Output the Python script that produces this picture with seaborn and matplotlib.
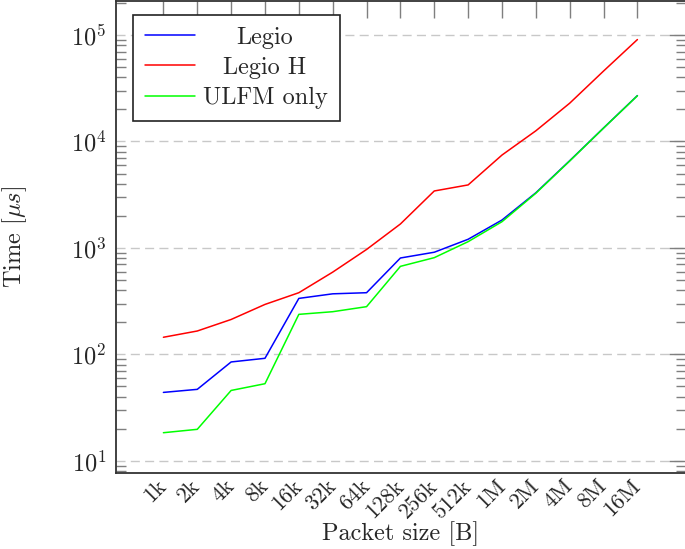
import matplotlib
matplotlib.use("Agg")
import matplotlib.pyplot as plt
import matplotlib.transforms as mtransforms
import seaborn as sns
import pandas as pd
import numpy as np
from matplotlib.ticker import LogLocator, NullFormatter

sizes = ["1k", "2k", "4k", "8k", "16k", "32k", "64k", "128k", "256k", "512k",
         "1M", "2M", "4M", "8M", "16M"]
legio = [44, 47, 85, 92, 336, 371, 380, 805, 912, 1207, 1830, 3300, 6600, 13400, 27000]
legio_h = [145, 166, 213, 295, 380, 593, 968, 1680, 3430, 3910, 7460, 12600, 22900, 45900, 90700]
ulfm = [18.4, 19.8, 45.9, 53.1, 238, 252, 281, 672, 811, 1146, 1765, 3265, 6560, 13360, 26900]
series_names = ["Legio", "Legio H", "ULFM only"]
colors = ["#0000ff", "#ff0000", "#00ff00"]

df = pd.concat([
    pd.DataFrame({"size": sizes, "time": legio, "series": series_names[0]}),
    pd.DataFrame({"size": sizes, "time": legio_h, "series": series_names[1]}),
    pd.DataFrame({"size": sizes, "time": ulfm, "series": series_names[2]}),
], ignore_index=True)

sns.set_style("white")
plt.rcParams["font.family"] = ["cmr10", "DejaVu Serif"]
plt.rcParams["mathtext.fontset"] = "cm"
plt.rcParams["axes.formatter.use_mathtext"] = True
plt.rcParams["axes.unicode_minus"] = False

FS = 17.5
FSX = 16

fig = plt.figure(figsize=(6.85, 5.49), dpi=100)
ax = fig.add_axes([116 / 685, (549 - 473) / 549, (685.5 - 116) / 685, (473 - 0.5) / 549])

sns.lineplot(data=df, x="size", y="time", hue="series", palette=colors,
             hue_order=series_names, sort=False, linewidth=1.1, ax=ax)

ax.set_yscale("log")
ax.set_xlim(-1.40, 15.42)
ax.set_ylim(7.7, 2.11e5)

ax.yaxis.set_major_locator(LogLocator(base=10, numticks=10))
ax.yaxis.set_minor_locator(LogLocator(base=10, subs=np.arange(2, 10), numticks=20))
ax.yaxis.set_minor_formatter(NullFormatter())

ax.set_xticks(range(len(sizes)))
ax.set_xticklabels(sizes, rotation=45, ha="right", va="center", rotation_mode="anchor")
offset = mtransforms.ScaledTranslation(-4 / 100, 0, fig.dpi_scale_trans)
for lbl in ax.get_xticklabels():
    lbl.set_transform(lbl.get_transform() + offset)

ax.tick_params(axis="x", which="major", direction="in", length=12, width=1.0,
               color="#7f7f7f", top=True, labelsize=FSX, pad=7)
ax.tick_params(axis="y", which="major", direction="in", length=12, width=1.0,
               color="#7f7f7f", right=True, labelsize=FS, pad=7)
ax.tick_params(axis="y", which="minor", direction="in", length=7, width=1.0,
               color="#7f7f7f", right=True, left=True)

ax.grid(False)
ax.yaxis.grid(True, which="major", linestyle=(0, (6.5, 3.8)), color="#c8c8c8", linewidth=1.0)
ax.set_axisbelow(True)

for s in ax.spines.values():
    s.set_color("#333333")
    s.set_linewidth(1.3)

ax.set_xlabel("Packet size [B]", fontsize=FS, va="center")
ax.xaxis.set_label_coords(0.5, -(534 - 473) / 472.5)
ax.set_ylabel(r"Time [$\mu s$]", fontsize=FS, va="center")
ax.yaxis.set_label_coords(-(116 - 15) / 569.5, 0.5)

leg = ax.legend(loc="upper left", bbox_to_anchor=(17 / 569.5, 1 - 14 / 472.5),
                borderaxespad=0, fontsize=FS, frameon=True, fancybox=False,
                framealpha=1, edgecolor="#222222", handlelength=2.06,
                labelspacing=0.33, borderpad=0.5, handletextpad=0.3)
leg.get_frame().set_linewidth(1.2)

fig.canvas.draw()
texts = leg.get_texts()
widths = [t.get_window_extent().width for t in texts]
wmax = max(widths)
for t, w in zip(texts, widths):
    t.set_position(((wmax - w) / 2, 0))

fig.savefig("out.png", dpi=100)
